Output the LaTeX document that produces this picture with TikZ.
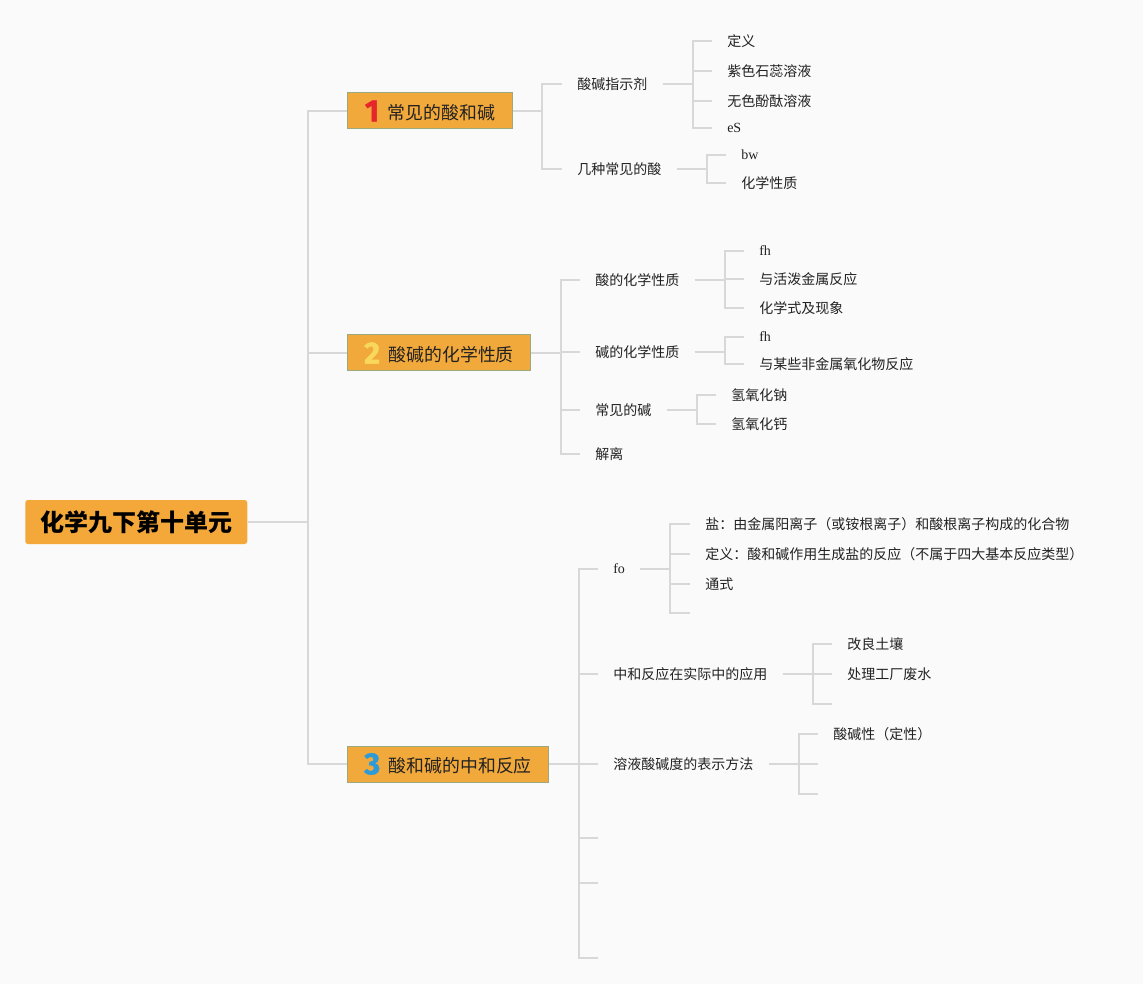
\documentclass[tikz,border=0pt]{standalone}
\usepackage{fontspec}
\setmainfont{Noto Sans CJK SC}
\newfontfamily\latinserif{Liberation Serif}
\newfontfamily\numfont{Fira Sans}[FakeBold=1.5]
\definecolor{bgC}{HTML}{FAFAFA}
\definecolor{lineC}{HTML}{D8D8D8}
\definecolor{txtC}{HTML}{222222}
\definecolor{rootC}{HTML}{F5A83A}
\definecolor{brC}{HTML}{F2A93B}
\definecolor{brBorder}{HTML}{9AA97E}
\definecolor{nOne}{HTML}{E5262A}
\definecolor{nTwo}{HTML}{F8D85A}
\definecolor{nThree}{HTML}{2E9AD8}
\newcommand{\bignum}[2]{\raisebox{-1.5pt}{\numfont\bfseries\fontsize{23}{23}\selectfont\color{#1}#2}\hspace{6.5pt}}
\newcommand{\lat}[1]{{\latinserif #1}}
\begin{document}
\begin{tikzpicture}[x=0.75pt,y=-0.75pt,
  ln/.style={draw=lineC, line width=1.5pt},
  leaf/.style={anchor=west, inner xsep=11.25pt, inner ysep=0pt, font=\fontsize{10.5}{12}\selectfont, text=txtC},
  rootbox/.style={fill=rootC, rounded corners=2pt, minimum width=166.5pt, minimum height=33pt, font=\fontsize{18}{20}\selectfont\bfseries, text=black, anchor=west, inner xsep=0pt},
  branch/.style={fill=brC, draw=brBorder, line width=0.75pt, minimum height=27pt, anchor=west, font=\fontsize{13.4}{16}\selectfont, text=txtC, inner xsep=0pt, inner ysep=0pt}
]
\fill[bgC] (0,0) rectangle (1143,984);
\useasboundingbox (0,0) rectangle (1143,984);

% root and branches
\node[rootbox] (root) at (25,522) {化学九下第十单元};
\node[branch, minimum width=123.75pt] (b1) at (347,111) {\bignum{nOne}{1}常见的酸和碱};
\node[branch, minimum width=137.25pt] (b2) at (347,353) {\bignum{nTwo}{2}酸碱的化学性质};
\node[branch, minimum width=150.75pt] (b3) at (347,764) {\bignum{nThree}{3}酸和碱的中和反应};

\foreach \b in {b1,b2,b3}{
  \draw[ln] (root.east) -- ++(60,0) |- (\b.west);
}

% branch 1
\node[leaf] (a1) at (562,84) {酸碱指示剂};
\node[leaf] (a2) at (562,169) {几种常见的酸};
\foreach \c in {a1,a2}{ \draw[ln] (b1.east) -- ++(29,0) |- (\c.west); }
\node[leaf] (a11) at (712,41) {定义};
\node[leaf] (a12) at (712,71) {紫色石蕊溶液};
\node[leaf] (a13) at (712,101) {无色酚酞溶液};
\node[leaf] (a14) at (712,128) {\lat{eS}};
\foreach \c in {a11,a12,a13,a14}{ \draw[ln] (a1.east) -- ++(30,0) |- (\c.west); }
\node[leaf] (a21) at (726,155) {\lat{bw}};
\node[leaf] (a22) at (726,183) {化学性质};
\foreach \c in {a21,a22}{ \draw[ln] (a2.east) -- ++(30,0) |- (\c.west); }

% branch 2
\node[leaf] (c1) at (580,280) {酸的化学性质};
\node[leaf] (c2) at (580,352) {碱的化学性质};
\node[leaf] (c3) at (580,410) {常见的碱};
\node[leaf] (c4) at (580,454) {解离};
\foreach \c in {c1,c2,c3,c4}{ \draw[ln] (b2.east) -- ++(30,0) |- (\c.west); }
\node[leaf] (c11) at (744,251) {\lat{fh}};
\node[leaf] (c12) at (744,279) {与活泼金属反应};
\node[leaf] (c13) at (744,308) {化学式及现象};
\foreach \c in {c11,c12,c13}{ \draw[ln] (c1.east) -- ++(30,0) |- (\c.west); }
\node[leaf] (c21) at (744,337) {\lat{fh}};
\node[leaf] (c22) at (744,364) {与某些非金属氧化物反应};
\foreach \c in {c21,c22}{ \draw[ln] (c2.east) -- ++(30,0) |- (\c.west); }
\node[leaf] (c31) at (716,395) {氢氧化钠};
\node[leaf] (c32) at (716,424) {氢氧化钙};
\foreach \c in {c31,c32}{ \draw[ln] (c3.east) -- ++(30,0) |- (\c.west); }

% branch 3
\node[leaf] (d1) at (598,569) {\lat{fo}};
\node[leaf] (d2) at (598,674) {中和反应在实际中的应用};
\node[leaf] (d3) at (598,764) {溶液酸碱度的表示方法};
\coordinate (d4) at (598,838);
\coordinate (d5) at (598,883);
\coordinate (d6) at (598,958);
\foreach \c in {d1,d2,d3}{ \draw[ln] (b3.east) -- ++(30,0) |- (\c.west); }
\foreach \c in {d4,d5,d6}{ \draw[ln] (b3.east) -- ++(30,0) |- (\c); }

\node[leaf] (d11) at (690,524) {盐：由金属阳离子（或铵根离子）和酸根离子构成的化合物};
\node[leaf] (d12) at (690,554) {定义：酸和碱作用生成盐的反应（不属于四大基本反应类型）};
\node[leaf] (d13) at (690,584) {通式};
\coordinate (d14) at (690,613);
\foreach \c in {d11,d12,d13}{ \draw[ln] (d1.east) -- ++(30,0) |- (\c.west); }
\draw[ln] (d1.east) -- ++(30,0) |- (d14);

\node[leaf] (d21) at (832,644) {改良土壤};
\node[leaf] (d22) at (832,674) {处理工厂废水};
\coordinate (d23) at (832,704);
\foreach \c in {d21,d22}{ \draw[ln] (d2.east) -- ++(30,0) |- (\c.west); }
\draw[ln] (d2.east) -- ++(30,0) |- (d23);

\node[leaf] (d31) at (818,734) {酸碱性（定性）};
\coordinate (d32) at (818,764);
\coordinate (d33) at (818,794);
\draw[ln] (d3.east) -- ++(30,0) |- (d31.west);
\foreach \c in {d32,d33}{ \draw[ln] (d3.east) -- ++(30,0) |- (\c); }
\end{tikzpicture}
\end{document}
